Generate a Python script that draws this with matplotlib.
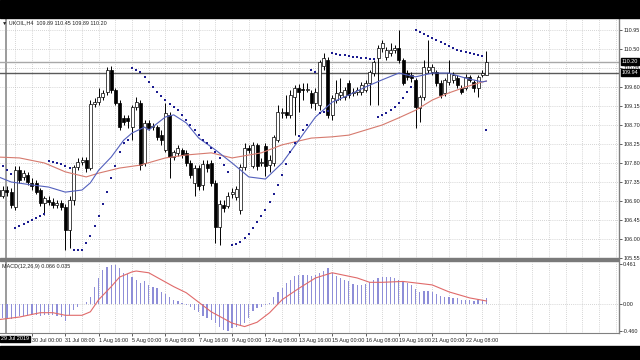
import numpy as np
import matplotlib
matplotlib.use("Agg")
import matplotlib.pyplot as plt
from matplotlib.patches import Rectangle

plt.rcParams['font.family'] = ['Liberation Sans', 'DejaVu Sans']

# H4 candles (price units)
opens = [107.16, 107.02, 107.16, 107.11, 106.76, 107.63, 107.47, 107.52, 107.33, 107.33,
         107.16, 106.85, 106.92, 106.88, 106.80, 106.85, 106.76, 106.21, 106.92, 107.71,
         107.82, 107.87, 107.68, 109.20, 109.24, 109.36, 109.48, 110.00, 109.53, 109.22,
         108.87, 108.87, 108.65, 109.13, 109.22, 107.80, 108.75, 108.65, 108.65, 108.46,
         108.11, 108.94, 107.94, 108.04, 108.11, 108.04, 107.80, 107.33, 107.68, 107.28,
         107.78, 107.80, 107.33, 106.28, 106.80, 106.78, 107.07, 107.00, 106.69, 107.71,
         108.15, 107.73, 108.23, 107.80, 108.20, 107.75, 107.80, 108.34, 108.98, 109.01,
         108.94, 109.36, 109.58, 109.55, 109.53, 109.46, 109.22, 109.17, 110.10, 110.24,
         108.94, 109.29, 109.41, 109.36, 109.69, 109.46, 109.48, 109.48, 109.53, 109.69,
         109.93, 110.29, 110.52, 110.31, 110.40, 110.48, 110.52, 110.24, 109.93, 109.88,
         109.77, 109.10, 109.36, 110.00, 109.95, 109.95, 109.69, 109.46, 109.72, 109.77,
         109.81, 109.58, 109.58, 109.84, 109.72, 109.58, 109.88, 109.89]
highs = [107.26, 107.26, 107.26, 107.21, 107.73, 107.73, 107.63, 107.59, 107.45, 107.40,
         107.21, 107.02, 107.02, 106.97, 106.92, 106.92, 106.83, 107.02, 107.75, 107.92,
         107.94, 107.94, 109.29, 109.34, 109.58, 109.53, 110.07, 110.10, 109.58, 109.29,
         108.94, 108.94, 109.17, 109.36, 109.29, 108.82, 108.82, 108.75, 108.70, 108.58,
         109.22, 109.01, 108.11, 108.23, 108.15, 108.11, 107.87, 107.75, 107.75, 107.87,
         107.87, 107.87, 107.40, 106.92, 106.92, 107.11, 107.21, 107.26, 107.78, 108.27,
         108.23, 108.30, 108.27, 107.92, 108.27, 107.99, 108.46, 109.17, 109.10, 109.41,
         109.53, 109.65, 109.67, 109.69, 109.69, 109.53, 109.58, 110.24, 110.40, 110.31,
         109.41, 109.77, 109.81, 109.60, 109.77, 109.58, 109.60, 109.72, 109.77, 110.00,
         110.24, 110.59, 110.71, 110.55, 110.64, 110.59, 110.95, 110.29, 110.00, 109.95,
         109.81, 109.41, 110.24, 110.71, 110.14, 110.00, 109.77, 109.81, 110.24, 109.95,
         109.88, 109.65, 109.91, 109.88, 109.77, 109.88, 110.00, 110.45]
lows = [106.92, 106.97, 107.02, 106.73, 106.69, 107.33, 107.40, 107.28, 107.16, 107.07,
        106.78, 106.57, 106.80, 106.73, 106.73, 106.69, 105.74, 105.79, 106.80, 107.63,
        107.75, 107.59, 107.63, 109.13, 109.17, 109.29, 109.41, 109.46, 109.17, 108.58,
        108.70, 108.63, 108.34, 109.05, 107.63, 107.73, 108.58, 108.58, 108.34, 108.23,
        108.06, 107.45, 107.87, 107.97, 107.92, 107.73, 107.45, 107.02, 107.16, 107.16,
        107.59, 107.26, 105.91, 105.86, 106.64, 106.73, 106.97, 106.92, 106.59, 107.63,
        108.04, 107.68, 107.63, 107.73, 107.49, 107.59, 107.73, 108.30, 108.87, 108.87,
        108.87, 108.46, 109.01, 109.29, 109.48, 109.10, 109.05, 109.05, 110.00, 108.87,
        108.82, 109.22, 109.29, 109.29, 109.34, 109.39, 109.41, 109.41, 109.48, 109.17,
        109.86, 109.17, 110.43, 110.24, 110.33, 110.40, 110.17, 109.65, 109.77, 109.72,
        108.63, 108.77, 109.29, 109.93, 109.88, 109.62, 109.34, 109.39, 109.65, 109.69,
        109.58, 109.43, 109.53, 109.72, 109.48, 109.36, 109.84, 109.89]
closes = [107.02, 107.16, 107.11, 106.80, 107.63, 107.40, 107.56, 107.35, 107.26, 107.11,
          106.85, 106.97, 106.88, 106.80, 106.85, 106.76, 106.21, 106.92, 107.71, 107.82,
          107.87, 107.68, 109.20, 109.24, 109.36, 109.46, 110.00, 109.53, 109.22, 108.65,
          108.77, 108.79, 109.13, 109.24, 107.75, 108.75, 108.63, 108.68, 108.42, 108.34,
          108.98, 107.94, 108.06, 108.15, 107.99, 107.80, 107.52, 107.68, 107.26, 107.78,
          107.68, 107.33, 106.28, 106.83, 106.73, 107.02, 107.11, 107.18, 107.71, 108.15,
          108.11, 108.23, 107.73, 107.82, 107.73, 107.87, 108.42, 109.01, 109.01, 108.94,
          109.41, 109.58, 109.48, 109.53, 109.55, 109.22, 109.48, 110.19, 110.29, 108.94,
          109.34, 109.46, 109.48, 109.53, 109.41, 109.48, 109.53, 109.65, 109.69, 109.95,
          110.19, 110.52, 110.64, 110.48, 110.48, 110.52, 110.24, 109.69, 109.84, 109.81,
          109.13, 109.36, 110.07, 110.07, 110.07, 109.69, 109.41, 109.77, 109.93, 109.88,
          109.65, 109.48, 109.84, 109.77, 109.58, 109.84, 109.93, 110.20]

# Parabolic SAR dots
sar = [107.80, 107.73, 107.63, 107.54, 106.26, 106.31, 106.35, 106.40, 106.45, 106.50,
       106.54, 106.59, 107.85, 107.82, 107.80, 107.78, 107.73, 107.68, 105.74, 105.74,
       105.74, 105.91, 106.07, 106.31, 106.54, 106.83, 107.11, 107.45, 107.73, 108.06,
       108.27, 108.34, 110.05, 110.00, 109.95, 109.84, 109.72, 109.60, 109.48, 109.39,
       109.29, 109.20, 109.13, 109.05, 108.94, 108.82, 108.70, 108.58, 108.46, 108.34,
       108.27, 108.15, 108.06, 107.92, 107.75, 107.59, 105.86, 105.88, 105.93, 106.02,
       106.12, 106.26, 106.40, 106.54, 106.69, 106.88, 107.07, 107.28, 107.52, 107.78,
       108.06, 108.27, 108.44, 108.58, 108.70, 110.00, 109.95, 108.98, 109.01, 109.03,
       110.40, 110.38, 110.36, 110.36, 110.33, 110.31, 110.31, 110.29, 110.29, 110.26,
       110.26, 108.89, 108.94, 108.98, 109.05, 109.13, 109.22, 109.34, 109.48, 109.60,
       110.95, 110.90, 110.85, 110.81, 110.76, 110.71, 110.67, 110.62, 110.57, 110.52,
       110.48, 110.45, 110.43, 110.40, 110.38, 110.36, 110.33, 108.58]

# moving averages, sampled along the lines
blue_x = [0, 3, 8, 12, 16, 20, 22, 24, 27, 30, 32, 35, 36, 40, 42, 45, 48, 52, 56, 60,
          64, 68, 72, 76, 80, 84, 88, 92, 96, 100, 104, 108, 112, 116, 117]
blue_ma = [107.47, 107.35, 107.28, 107.23, 107.11, 107.16, 107.33, 107.63, 107.94, 108.34,
           108.51, 108.65, 108.58, 108.89, 108.94, 108.75, 108.39, 108.11, 107.80, 107.47,
           107.42, 107.80, 108.34, 108.89, 109.24, 109.41, 109.60, 109.77, 109.93, 109.84,
           109.93, 109.93, 109.81, 109.72, 109.74]
red_x = [0, 5, 11, 16, 21, 24, 29, 34, 40, 45, 51, 56, 63, 68, 75, 80, 84, 88, 92, 96,
         100, 104, 108, 112, 116, 117]
red_ma = [107.94, 107.92, 107.80, 107.59, 107.47, 107.56, 107.68, 107.75, 107.92, 107.99,
          108.04, 107.92, 108.04, 108.23, 108.39, 108.42, 108.46, 108.58, 108.70, 108.87,
          109.05, 109.29, 109.46, 109.60, 109.72, 109.74]

# MACD(12,26,9)
macd = [-0.16, -0.16, -0.17, -0.17, -0.15, -0.14, -0.14, -0.13, -0.13, -0.13,
        -0.14, -0.13, -0.13, -0.13, -0.14, -0.15, -0.20, -0.13, -0.07, -0.03,
        0.00, 0.02, 0.08, 0.20, 0.30, 0.39, 0.43, 0.45, 0.45, 0.41,
        0.36, 0.34, 0.31, 0.28, 0.24, 0.26, 0.22, 0.20, 0.18, 0.14,
        0.12, 0.08, 0.05, 0.03, 0.01, -0.01, -0.04, -0.07, -0.09, -0.14,
        -0.16, -0.18, -0.22, -0.26, -0.30, -0.31, -0.28, -0.26, -0.24, -0.22,
        -0.16, -0.08, -0.05, -0.03, -0.01, 0.01, 0.08, 0.14, 0.18, 0.24,
        0.28, 0.32, 0.33, 0.33, 0.33, 0.32, 0.33, 0.36, 0.38, 0.41,
        0.36, 0.32, 0.30, 0.28, 0.26, 0.23, 0.22, 0.22, 0.23, 0.25,
        0.28, 0.30, 0.31, 0.31, 0.31, 0.30, 0.28, 0.26, 0.24, 0.22,
        0.17, 0.14, 0.15, 0.15, 0.14, 0.12, 0.09, 0.08, 0.08, 0.07,
        0.07, 0.05, 0.05, 0.05, 0.04, 0.05, 0.05, 0.066]
signal_x = [0, 5, 10, 13, 16, 20, 22, 24, 27, 29, 32, 33, 36, 39, 42, 45, 48, 51, 56, 59,
            62, 65, 68, 72, 76, 80, 83, 86, 89, 92, 97, 104, 108, 113, 117]
signal = [-0.18, -0.15, -0.10, -0.10, -0.13, -0.13, -0.09, 0.05, 0.20, 0.31,
          0.37, 0.38, 0.36, 0.28, 0.20, 0.13, 0.02, -0.09, -0.22, -0.26,
          -0.21, -0.10, 0.05, 0.18, 0.30, 0.36, 0.33, 0.30, 0.25, 0.25,
          0.26, 0.22, 0.14, 0.07, 0.035]

price_ticks = [105.55, 106.00, 106.45, 106.90, 107.35, 107.80, 108.25, 108.70,
               109.15, 109.60, 110.05, 110.50, 110.95]
time_bars = [8, 16, 24, 32, 40, 48, 56, 64, 72, 80, 88, 96, 104, 112]
time_labels = ["30 Jul 00:00", "31 Jul 08:00", "1 Aug 16:00", "5 Aug 00:00",
               "6 Aug 08:00", "7 Aug 16:00", "9 Aug 00:00", "12 Aug 08:00",
               "13 Aug 16:00", "15 Aug 00:00", "16 Aug 08:00", "19 Aug 16:00",
               "21 Aug 00:00", "22 Aug 08:00"]
bid_price = 110.20
ask_price = 109.94

W, H = 640, 360
FS = 3.9
GRID = '#b0b0b0'


def fy(px):
    return 1 - px / H


fig = plt.figure(figsize=(6.4, 3.6), dpi=100)
fig.patch.set_facecolor('white')
ax = fig.add_axes([0, fy(258), 619 / W, (258 - 18) / H])
ax2 = fig.add_axes([0, fy(333), 619 / W, (333 - 262) / H])

xl = (0.33, 148.8)
for a in (ax, ax2):
    a.set_xlim(*xl)
    for s in ('top', 'left', 'bottom'):
        a.spines[s].set_visible(False)
    a.spines['right'].set_color('#808080')
    a.spines['right'].set_linewidth(1.0)
    for b in range(0, 150, 4):
        a.axvline(b, color=GRID, lw=0.5, ls=(0, (1, 2)), zorder=0)
    a.axvline(1.77, color='#8a8a8a', lw=1.2, zorder=1)

# --- price panel
ax.set_ylim(105.55, 111.234)
ax.set_yticks(price_ticks)
ax.set_yticklabels([f"{p:.2f}" for p in price_ticks])
ax.yaxis.tick_right()
ax.tick_params(axis='y', labelsize=FS, length=2, pad=1, colors='#202020', width=0.5)
ax.tick_params(axis='x', bottom=False, labelbottom=False)
ax.grid(axis='y', color=GRID, lw=0.5, ls=(0, (1, 2)))

ax.axhline(bid_price, color='#a8a8a8', lw=1.0, zorder=1)
ax.axhline(ask_price, color='#5a5a5a', lw=1.0, zorder=1)

o = np.array(opens)
h = np.array(highs)
l = np.array(lows)
c = np.array(closes)
idx = np.arange(len(o))
up = c >= o
ax.vlines(idx, l, h, color='black', lw=0.7, zorder=3)
body_b = np.minimum(o, c)
body_h = np.maximum(np.abs(c - o), 0.012)
ax.bar(idx[up], body_h[up], bottom=body_b[up], width=0.72, color='white',
       edgecolor='black', lw=0.5, zorder=4)
ax.bar(idx[~up], body_h[~up], bottom=body_b[~up], width=0.72, color='black',
       edgecolor='black', lw=0.5, zorder=4)

ax.plot(red_x, red_ma, color='#d67a6e', lw=0.8, zorder=5)
ax.plot(blue_x, blue_ma, color='#5360bd', lw=0.8, zorder=5)
ax.scatter(idx, sar, s=1.6, marker='s', color='#1c1c90', linewidths=0, zorder=6)

tr = ax.get_yaxis_transform()
for val, txt in ((bid_price, '110.20'), (ask_price, '109.94')):
    ax.text(1.004, val, txt, transform=tr, fontsize=FS, color='white', va='center',
            ha='left', clip_on=False, zorder=10,
            bbox=dict(boxstyle='square,pad=0.15', fc='black', ec='black'))

ax.text(0.004, 0.992, '\u25bc UKOIL,H4  109.89 110.45 109.89 110.20',
        transform=ax.transAxes, fontsize=FS, va='top', ha='left', color='#202020')

# --- MACD panel
ax2.set_ylim(-0.334, 0.484)
ax2.spines['bottom'].set_visible(True)
ax2.spines['bottom'].set_color('#808080')
ax2.axhline(0, color=GRID, lw=0.5, ls=(0, (1, 2)), zorder=0)
ax2.bar(idx, macd, width=0.3, color='#8e8ed8', zorder=3)
ax2.plot(signal_x, signal, color='#e06a6a', lw=0.8, zorder=4)
ax2.yaxis.tick_right()
ax2.set_yticks([0.461, 0.0, -0.31])
ax2.set_yticklabels(['0.461', '0.00', '-0.460'])
ax2.tick_params(axis='y', labelsize=FS, length=2, pad=1, colors='#202020', width=0.5)
ax2.set_xticks(time_bars)
ax2.set_xticklabels(time_labels, ha='left')
ax2.tick_params(axis='x', labelsize=FS, length=2.5, pad=1, colors='#202020', width=0.5)
ax2.text(0.003, 0.97, 'MACD(12,26,9) 0.066 0.035', transform=ax2.transAxes,
         fontsize=FS, va='top', ha='left', color='#202020')
fig.text(1 / W, fy(339), '29 Jul 2019', fontsize=FS, color='white', va='center',
         ha='left', bbox=dict(boxstyle='square,pad=0.15', fc='black', ec='black'))

# panel separator and black letterbox bands
fig.add_artist(Rectangle((0, fy(261)), 619 / W, 3 / H, transform=fig.transFigure,
                         color='#7a7a7a', zorder=5))
fig.add_artist(Rectangle((0, fy(18)), 1, 18 / H, transform=fig.transFigure,
                         color='black', zorder=20))
fig.add_artist(Rectangle((0, 0), 1, 14 / H, transform=fig.transFigure,
                         color='black', zorder=20))

fig.savefig('out.png', dpi=100)
